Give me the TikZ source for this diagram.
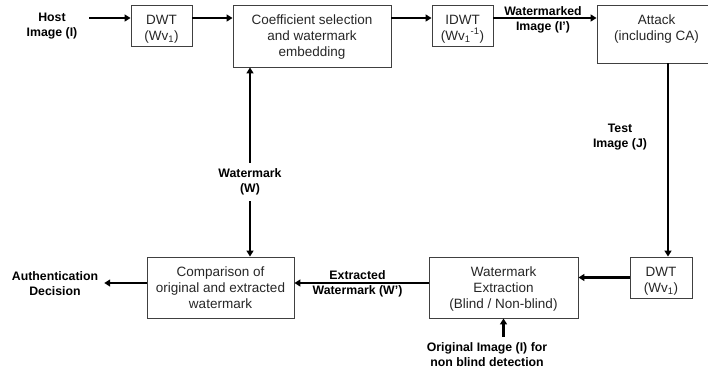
\documentclass[tikz,border=0pt]{standalone}
\usepackage{fontspec}
\setmainfont{Liberation Sans}
\usetikzlibrary{arrows.meta}

\tikzset{
  blk/.style 2 args={draw=black!75, line width=0.9pt, minimum width=#1, minimum height=#2, inner sep=0pt},
  btxt/.style={anchor=north, align=center, inner sep=0pt, yshift=-10pt, text=black!85,
    font=\fontsize{13.5}{16}\selectfont},
  lbl/.style={align=center, inner sep=6pt, font=\bfseries\fontsize{12.3}{15}\selectfont},
  arr/.style={line width=2.3pt, -{Triangle[length=6pt,width=7pt]}}
}

\begin{document}
\begin{tikzpicture}[x=1pt, y=-1pt]
  \useasboundingbox (0,0) rectangle (708,378);
  \coordinate (r1) at (0,18);
  \coordinate (r2) at (0,283);

  \node[blk={61pt}{41pt}, label={[btxt]north:DWT\\(Wv\textsubscript{1})}] (dwtA) at (161.5,25.5) {};
  \node[blk={158pt}{62pt}, label={[btxt]north:Coefficient selection\\and watermark\\embedding}] (coef) at (312,36) {};
  \node[blk={61pt}{41pt}, label={[btxt]north:IDWT\\(Wv\textsubscript{1}\textsuperscript{-1})}] (idwt) at (462.5,25.5) {};
  \node[blk={119pt}{58pt}, label={[btxt]north:Attack\\(including CA)}] (attack) at (656.5,34) {};
  \node[blk={62pt}{41pt}, label={[btxt]north:DWT\\(Wv\textsubscript{1})}] (dwtB) at (661,277.5) {};
  \node[blk={149pt}{61pt}, label={[btxt]north:Watermark\\Extraction\\(Blind / Non-blind)}] (extr) at (503.5,287.5) {};
  \node[blk={147pt}{61pt}, label={[btxt]north:Comparison of\\original and extracted\\watermark}] (comp) at (220.5,287.5) {};

  \node[lbl] (host) at (52,26) {Host\\Image (I)};
  \node[lbl] (test) at (620,137) {Test\\Image (J)};
  \node[lbl] (wm) at (250,182) {Watermark\\(W)};
  \node[lbl] (auth) at (55,284) {Authentication\\Decision};
  \node[lbl] (orig) at (487,355) {Original Image (I) for\\non blind detection};

  \draw[arr, shorten <=6pt] (host.east |- r1) -- (dwtA.west |- r1);
  \draw[arr] (dwtA.east |- r1) -- (coef.west |- r1);
  \draw[arr] (coef.east |- r1) -- (idwt.west |- r1);
  \draw[arr] (idwt.east |- r1) -- node[lbl, yshift=-2pt, xshift=-2pt] (wmkd) {Watermarked\\Image (I')} (attack.west |- r1);
  \draw[arr] ([xshift=11.5pt]attack.south) -- ([xshift=11.5pt]attack.south |- dwtB.north);
  \draw[arr] (dwtB.west) -- (extr.east |- dwtB.west);
  \draw[arr] (extr.west |- r2) -- node[lbl, yshift=-1pt, xshift=-4pt] (extd) {Extracted\\Watermark (W')} (comp.east |- r2);
  \draw[arr] (comp.west |- r2) -- (auth.east |- r2);
  \draw[arr] (wm.north) -- (wm.north |- coef.south);
  \draw[arr] (wm.south) -- (wm.south |- comp.north);
  \draw[arr] (extr.south |- orig.north) -- (extr.south);
\end{tikzpicture}
\end{document}
